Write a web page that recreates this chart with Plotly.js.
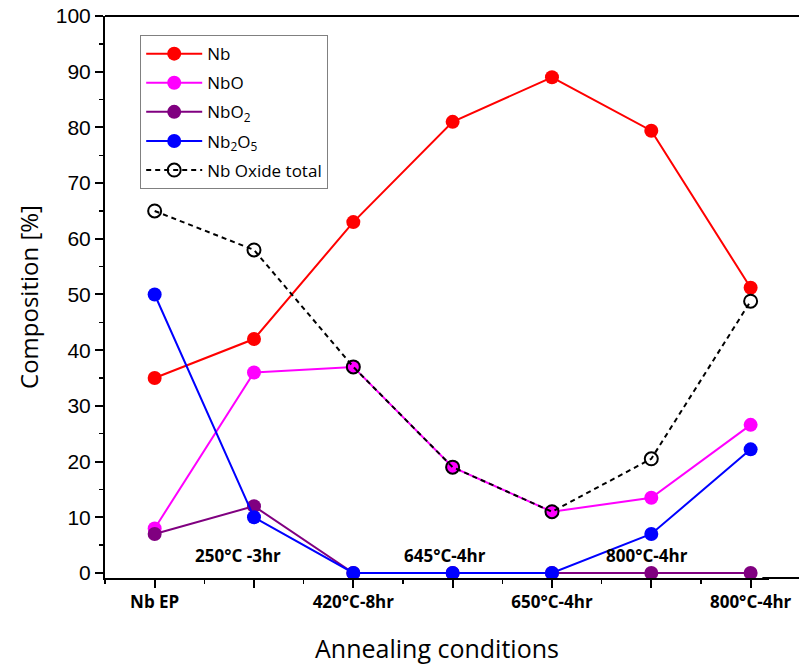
<!DOCTYPE html>
<html>
<head>
<meta charset="utf-8">
<script src="https://cdn.plot.ly/plotly-3.0.1.min.js"></script>
<style>html,body{margin:0;padding:0;background:#fff;overflow:hidden;}#chart{width:799px;height:666px;}</style>
</head>
<body>
<div id="chart"></div>
<script>
// Category positions along x (sample sequence)
const positions = [0, 1, 2, 3, 4, 5, 6];
// Bottom-row tick labels (at every other position)
const tickLabels = ["Nb EP", "", "420°C-8hr", "", "650°C-4hr", "", "800°C-4hr"];
// Inner-row labels for the odd positions
const innerLabelPos = [1, 3, 5];
const innerLabels = ["250°C -3hr", "645°C-4hr", "800°C-4hr"];

// Series values [%]
const nb      = [35, 42, 63, 81, 89, 79.4, 51.2];
const nbO     = [8, 36, 37, 19, 11, 13.5, 26.6];
const nbO2    = [7, 12, 0, 0, 0, 0, 0];
const nb2O5   = [50, 10, 0, 0, 0, 7, 22.2];
const oxTotal = [65, 58, 37, 19, 11, 20.5, 48.8];

const seriesNames = ["Nb", "NbO", "NbO<sub>2</sub>", "Nb<sub>2</sub>O<sub>5</sub>", "Nb Oxide total"];
const seriesColors = ["#ff0000", "#ff00ff", "#800080", "#0000ff", "#000000"];
const seriesValues = [nb, nbO, nbO2, nb2O5, oxTotal];

const traces = seriesValues.map((vals, i) => {
  const isTotal = i === 4;
  return {
    x: positions, y: vals, name: seriesNames[i], legendgroup: "g" + i,
    type: "scatter", mode: "lines+markers", cliponaxis: false,
    line: {color: seriesColors[i], width: 2, dash: isTotal ? "5px,4px" : "solid"},
    marker: isTotal
      ? {symbol: "circle-open", size: 13, color: "#000", line: {width: 2, color: "#000"}}
      : {symbol: "circle", size: 14, color: seriesColors[i]}
  };
});

const annotations = innerLabels.map((t, i) => ({
  x: innerLabelPos[i], y: 0, xref: "x", yref: "paper",
  text: "<b>" + t + "</b>", showarrow: false,
  yanchor: "bottom", yshift: 9, xshift: i === 0 ? -16 : (i === 1 ? -8 : -4),
  font: {family: "Open Sans", size: 17, color: "#000"}
}));

const layout = {
  width: 799, height: 666,
  margin: {l: 105, r: 30, t: 16, b: 88},
  paper_bgcolor: "#fff", plot_bgcolor: "rgba(0,0,0,0)",
  showlegend: true,
  legend: {
    x: 0.053, y: 0.966, xanchor: "left", yanchor: "top",
    bgcolor: "#fff", bordercolor: "#808080", borderwidth: 1,
    font: {family: "Open Sans", size: 17, color: "#000"},
    tracegroupgap: 4, itemwidth: 56
  },
  xaxis: {
    range: [-0.5, 6.185],
    tickvals: positions, ticktext: tickLabels,
    tickfont: {family: "Open Sans", size: 17, color: "#000", weight: "bold"},
    ticks: "outside", ticklen: 8, tickwidth: 2, tickcolor: "#000",
    minor: {dtick: 0.5, ticks: "outside", ticklen: 4, tickwidth: 1.5, tickcolor: "#000", showgrid: false},
    showline: true, linecolor: "#000", linewidth: 2, mirror: false,
    showgrid: false, zeroline: false,
    title: {text: "Annealing conditions", font: {family: "Open Sans", size: 25, color: "#000"}, standoff: 28}
  },
  yaxis: {
    range: [-0.9, 100],
    tickvals: [0, 10, 20, 30, 40, 50, 60, 70, 80, 90, 100],
    tickfont: {family: "Liberation Sans", size: 21, color: "#000"},
    ticks: "outside", ticklen: 8, tickwidth: 2, tickcolor: "#000",
    minor: {dtick: 5, ticks: "outside", ticklen: 4, tickwidth: 1.5, tickcolor: "#000", showgrid: false},
    showline: true, linecolor: "#000", linewidth: 2, mirror: false,
    showgrid: false, zeroline: false,
    title: {text: "Composition [%]", font: {family: "Open Sans", size: 24, color: "#000"}, standoff: 10}
  },
  shapes: [
    {type: "line", xref: "paper", yref: "paper", x0: 0, x1: 1.06, y0: 1, y1: 1,
     line: {color: "#000", width: 2}, layer: "above"},
    {type: "line", xref: "paper", yref: "paper", x0: 0.99, x1: 1.06, y0: 0, y1: 0,
     line: {color: "#000", width: 2}, layer: "above"}
  ],
  annotations: annotations
};

Plotly.newPlot("chart", traces, layout, {displayModeBar: false, staticPlot: true});
</script>
</body>
</html>
